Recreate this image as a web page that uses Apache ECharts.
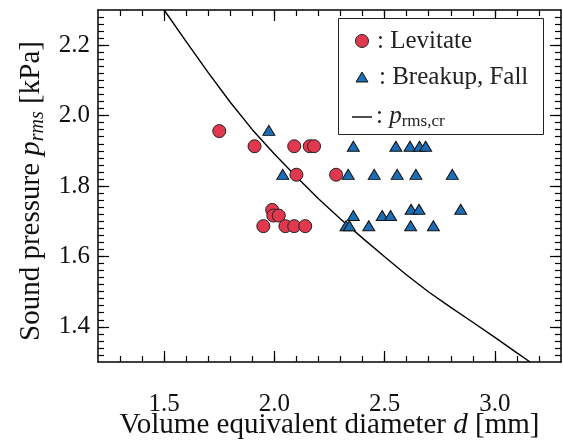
<!DOCTYPE html>
<html>
<head>
<meta charset="utf-8">
<script src="https://cdn.jsdelivr.net/npm/echarts@6/dist/echarts.min.js"></script>
<style>
html,body{margin:0;padding:0;background:#fff;}
#chart{width:563px;height:445px;}
</style>
</head>
<body>
<div id="chart"></div>
<script>
// ---- data ----
const levitateD = [1.75, 1.91, 2.09, 2.16, 2.18, 2.10, 2.28, 1.99, 1.995, 2.02, 1.95, 2.05, 2.09, 2.14];
const levitateP = [1.956, 1.913, 1.913, 1.913, 1.913, 1.832, 1.832, 1.732, 1.716, 1.716, 1.686, 1.686, 1.686, 1.686];
const breakupD = [1.975,
  2.358, 2.551, 2.615, 2.658, 2.686,
  2.038, 2.335, 2.453, 2.557, 2.642, 2.807,
  2.620, 2.656, 2.845,
  2.358, 2.489, 2.527,
  2.325, 2.340, 2.428, 2.618, 2.721];
const breakupP = [1.958,
  1.913, 1.913, 1.913, 1.913, 1.913,
  1.833, 1.833, 1.833, 1.833, 1.833, 1.833,
  1.734, 1.734, 1.734,
  1.716, 1.716, 1.716,
  1.687, 1.687, 1.687, 1.687, 1.687];
const curveD = [1.5, 1.6, 1.7, 1.8, 1.9, 2.0, 2.1, 2.2, 2.3, 2.4, 2.5, 2.6, 2.7, 2.8, 2.9, 3.0, 3.1, 3.16];
const curveP = [2.30, 2.210, 2.122, 2.038, 1.960, 1.891, 1.826, 1.764, 1.706, 1.652, 1.599, 1.547, 1.499, 1.455, 1.413, 1.370, 1.326, 1.30];
const xTickLabels = [1.5, 2.0, 2.5, 3.0];
const yTickLabels = [1.4, 1.6, 1.8, 2.0, 2.2];
const legendNames = ['Levitate', 'Breakup, Fall'];

const X_MIN = 1.2, X_MAX = 3.3, Y_MIN = 1.3, Y_MAX = 2.3;
const xMinor = [], yMinor = [];
for (let i = 13; i <= 32; i++) xMinor.push(+(i / 10).toFixed(2));
for (let i = 66; i <= 114; i++) yMinor.push(+(i / 50).toFixed(2));

const FONT = 'Liberation Serif';
const F25 = '25px "Liberation Serif"';
const TXT = '#111';
const RED = '#E2384F', BLUE = '#1B6DB6';
const chart = echarts.init(document.getElementById('chart'), null, {renderer: 'canvas'});

function xAx(pos, ticks, len, main) {
  return {
    type: 'value', min: X_MIN, max: X_MAX, position: pos,
    axisLine: {show: main, onZero: false, lineStyle: {color: '#000', width: 1.5}},
    axisTick: {show: true, inside: true, length: len, customValues: ticks, lineStyle: {color: '#000', width: 1.2}},
    axisLabel: {show: false},
    splitLine: {show: false},
    name: main && pos === 'bottom' ? 'Volume equivalent diameter {i|d} [mm]' : '',
    nameLocation: 'middle', nameGap: 49,
    nameTextStyle: {fontFamily: FONT, fontSize: 29, color: TXT,
      rich: {i: {fontFamily: FONT, fontSize: 29, fontStyle: 'italic', color: TXT}}}
  };
}
function yAx(pos, ticks, len, main) {
  return {
    type: 'value', min: Y_MIN, max: Y_MAX, position: pos,
    axisLine: {show: main, onZero: false, lineStyle: {color: '#000', width: 1.5}},
    axisTick: {show: true, inside: true, length: len, customValues: ticks, lineStyle: {color: '#000', width: 1.2}},
    axisLabel: {show: false},
    splitLine: {show: false},
    name: main && pos === 'left' ? 'Sound pressure {i|p}{s|rms} [kPa]' : '',
    nameLocation: 'middle', nameGap: 50, nameRotate: 90,
    nameTextStyle: {fontFamily: FONT, fontSize: 29, color: TXT, lineHeight: 34, padding: [0, 10, 0, 0],
      rich: {
        i: {fontFamily: FONT, fontSize: 29, fontStyle: 'italic', color: TXT, lineHeight: 34},
        s: {fontFamily: FONT, fontSize: 20, fontStyle: 'italic', color: TXT, verticalAlign: 'bottom', lineHeight: 26}
      }}
  };
}

const option = {
  animation: false,
  backgroundColor: '#fff',
  grid: {left: 98, top: 10, right: 2, bottom: 65, containLabel: false},
  xAxis: [
    xAx('bottom', xTickLabels, 11, true),
    xAx('bottom', xMinor, 6, false),
    xAx('top', xTickLabels, 11, true),
    xAx('top', xMinor, 6, false)
  ],
  yAxis: [
    yAx('left', yTickLabels, 11, true),
    yAx('left', yMinor, 6, false),
    yAx('right', yTickLabels, 11, true),
    yAx('right', yMinor, 6, false)
  ],
  series: [
    {
      name: 'crit', type: 'line', z: 1,
      data: curveD.map((d, i) => [d, curveP[i]]),
      showSymbol: false, smooth: false,
      lineStyle: {color: '#000', width: 1.4}, itemStyle: {color: '#000'}
    },
    {
      name: 'Levitate', type: 'scatter', z: 2, symbol: 'circle', symbolSize: 13,
      data: levitateD.map((d, i) => [d, levitateP[i]]),
      itemStyle: {color: RED, borderColor: '#222', borderWidth: 1, opacity: 1}
    },
    {
      name: 'Breakup, Fall', type: 'scatter', z: 3, symbol: 'triangle', symbolSize: [12, 10],
      data: breakupD.map((d, i) => [d, breakupP[i]]),
      itemStyle: {color: BLUE, borderColor: '#111', borderWidth: 1, opacity: 1}
    }
  ]
};
chart.setOption(option);

// tick labels placed through the axes' own scales
const gfx = [];
xTickLabels.forEach(v => {
  const px = chart.convertToPixel({xAxisIndex: 0}, v);
  gfx.push({type: 'text', x: px, y: 392, z: 50,
    style: {text: v.toFixed(1), font: F25, fill: TXT, align: 'center', verticalAlign: 'top'}});
});
yTickLabels.forEach(v => {
  const py = chart.convertToPixel({yAxisIndex: 0}, v);
  gfx.push({type: 'text', x: 90, y: py, z: 50,
    style: {text: v.toFixed(1), font: F25, fill: TXT, align: 'right', verticalAlign: 'middle'}});
});
// legend box
gfx.push({type: 'rect', z: 60, shape: {x: 338.5, y: 18.5, width: 205, height: 116},
  style: {fill: '#fff', stroke: '#222', lineWidth: 1}});
gfx.push({type: 'circle', z: 61, shape: {cx: 362, cy: 41, r: 6.5},
  style: {fill: RED, stroke: '#222', lineWidth: 1}});
gfx.push({type: 'polygon', z: 61, shape: {points: [[362, 72], [368, 82], [356, 82]]},
  style: {fill: BLUE, stroke: '#111', lineWidth: 1}});
gfx.push({type: 'line', z: 61, shape: {x1: 352, y1: 117, x2: 372, y2: 117},
  style: {stroke: '#000', lineWidth: 1.4}});
gfx.push({type: 'text', z: 61, x: 377, y: 41,
  style: {text: ': ' + legendNames[0], font: F25, fill: '#222', align: 'left', verticalAlign: 'middle'}});
gfx.push({type: 'text', z: 61, x: 379, y: 77,
  style: {text: ': ' + legendNames[1], font: F25, fill: '#222', align: 'left', verticalAlign: 'middle'}});
gfx.push({type: 'text', z: 61, x: 376, y: 116,
  style: {text: '{n|: }{i|p}{s|rms,cr}', font: F25, fill: '#222', align: 'left', verticalAlign: 'middle',
    rich: {
      n: {font: F25, fill: '#222', lineHeight: 28},
      i: {font: 'italic 25px "Liberation Serif"', fill: '#222', lineHeight: 28},
      s: {font: '17px "Liberation Serif"', fill: '#222', verticalAlign: 'bottom', lineHeight: 22}
    }}});
chart.setOption({graphic: gfx});
</script>
</body>
</html>
